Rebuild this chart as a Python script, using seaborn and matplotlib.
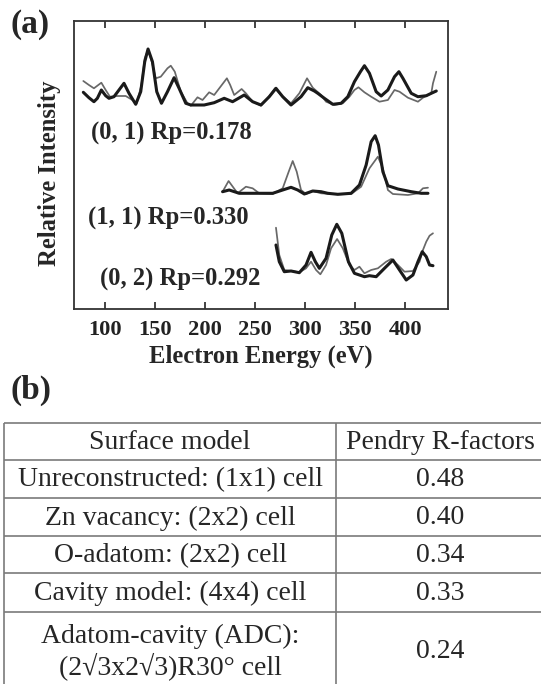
import numpy as np
import pandas as pd
import matplotlib
matplotlib.use("Agg")
import matplotlib.pyplot as plt
import seaborn as sns

# ---------------- data ----------------
# (0,1) beam
e01_exp = [78.6, 84.2, 89.2, 92.6, 96.6, 100.9, 104.2, 109.2, 114.2, 119.2, 124.2, 130.9, 135.9, 139.9,
           143.2, 147.6, 151.9, 156.6, 162.6, 169.2, 174.2, 180.9, 185.9, 199.2, 209.2, 219.2, 227.6,
           239.2, 247.6, 255.9, 264.2, 270.9, 277.6, 285.9, 295.9, 302.6, 309.2, 312.6, 319.2, 327.6,
           335.9, 342.6, 349.2, 355.2, 359.2, 364.2, 370.9, 375.9, 382.6, 389.2, 393.6, 397.6, 405.9,
           412.6, 420.9, 425.9, 430.9]
i01_exp = [225.7, 220.3, 216.3, 219.7, 228.0, 222.3, 219.7, 221.3, 228.0, 234.7, 224.7, 213.7, 226.3, 256.3,
           269.0, 256.3, 226.3, 214.7, 226.3, 240.3, 229.7, 214.7, 213.0, 213.0, 215.3, 219.7, 216.3,
           223.0, 216.3, 213.0, 221.3, 229.7, 221.3, 213.0, 221.3, 230.3, 227.0, 224.7, 219.7, 213.7,
           214.7, 221.3, 236.3, 246.3, 252.3, 244.7, 226.3, 222.0, 228.0, 241.3, 246.3, 239.7, 224.7,
           221.3, 222.3, 224.7, 227.0]
e01_th = [78.6, 84.2, 89.2, 96.6, 100.9, 105.2, 112.6, 120.9, 127.6, 131.9, 136.6, 139.9, 143.2, 146.9,
          150.9, 155.9, 162.6, 165.9, 169.9, 175.9, 182.6, 185.9, 192.6, 197.6, 204.2, 209.2, 221.9,
          225.2, 229.2, 236.6, 240.9, 247.6, 255.9, 262.6, 269.9, 275.9, 285.9, 294.2, 301.9, 307.6,
          315.9, 320.9, 329.2, 337.6, 344.2, 349.2, 353.2, 359.2, 365.9, 374.2, 382.6, 389.2, 394.2,
          402.6, 412.6, 417.6, 425.9, 427.6, 430.9]
i01_th = [237.0, 233.0, 229.7, 235.3, 228.0, 221.3, 222.0, 222.0, 218.0, 214.7, 233.0, 259.7, 268.0, 256.3,
          239.7, 241.3, 249.7, 252.3, 246.3, 226.3, 214.7, 212.3, 220.7, 218.0, 225.7, 223.0, 239.7,
          233.0, 223.0, 229.0, 224.7, 216.3, 212.3, 219.7, 229.7, 223.0, 214.7, 224.7, 239.7, 230.3,
          223.0, 216.3, 213.0, 214.7, 221.3, 228.0, 230.7, 225.7, 221.3, 216.3, 218.0, 228.0, 226.3,
          220.3, 216.3, 220.3, 224.7, 234.7, 246.3]

# (1,1) beam
e11_exp = [217.6, 224.2, 234.2, 250.9, 267.6, 277.6, 285.9, 292.6, 299.2, 307.6, 315.9, 322.6, 332.6,
           345.9, 354.2, 360.9, 365.9, 369.9, 373.2, 377.6, 382.6, 392.6, 405.9, 415.9, 422.6]
i11_exp = [126.3, 128.0, 124.7, 124.7, 124.7, 128.0, 130.7, 128.0, 124.0, 127.0, 126.3, 124.7, 123.7,
           124.7, 133.0, 153.0, 176.3, 182.3, 173.0, 146.3, 132.3, 129.0, 126.3, 124.7, 124.7]
e11_th = [217.6, 223.6, 232.6, 240.9, 247.6, 254.2, 267.6, 277.6, 283.6, 287.6, 291.6, 295.9, 300.9,
          307.6, 315.9, 332.6, 345.9, 355.9, 364.2, 372.6, 377.6, 382.6, 387.6, 402.6, 412.6, 417.6, 422.6]
i11_th = [126.3, 137.0, 124.7, 131.3, 129.7, 124.7, 124.0, 129.7, 146.3, 157.0, 146.3, 128.0, 124.0,
          127.0, 124.7, 123.7, 124.0, 131.3, 149.7, 161.3, 149.7, 128.0, 124.0, 123.0, 124.7, 129.7, 130.3]

# (0,2) beam
e02_exp = [270.9, 274.2, 279.2, 285.9, 294.2, 300.9, 305.9, 310.2, 314.2, 320.9, 326.6, 331.6, 336.6,
           343.2, 349.2, 354.2, 359.2, 364.2, 370.9, 379.2, 387.6, 394.2, 400.9, 407.6, 412.6, 416.9,
           420.9, 424.2, 427.6]
i02_exp = [73.0, 56.3, 46.3, 47.0, 45.3, 53.0, 65.7, 56.3, 49.7, 59.7, 83.0, 93.7, 84.7,
           56.3, 44.7, 43.0, 41.3, 42.3, 41.3, 49.7, 58.0, 48.0, 38.0, 43.0, 56.3, 66.3,
           61.3, 53.0, 52.3]
e02_th = [270.9, 274.2, 279.2, 285.9, 294.2, 300.9, 305.9, 310.9, 315.2, 320.9, 325.9, 331.9, 337.6,
          344.2, 349.2, 354.2, 359.2, 365.9, 372.6, 380.9, 385.9, 392.6, 399.2, 407.6, 414.2, 417.6,
          420.9, 424.2, 427.6]
i02_th = [90.3, 63.0, 48.0, 47.0, 45.7, 49.7, 56.3, 48.0, 43.7, 53.0, 69.7, 79.0, 69.7,
          53.0, 48.0, 51.3, 44.7, 48.0, 49.7, 56.3, 59.0, 53.0, 46.3, 47.0, 56.3, 68.0,
          76.3, 82.3, 84.7]

beam_labels = ["(0, 1) Rp=0.178", "(1, 1) Rp=0.330", "(0, 2) Rp=0.292"]
x_ticks = [100, 150, 200, 250, 300, 350, 400]

models = ["Unreconstructed: (1x1) cell", "Zn vacancy: (2x2) cell", "O-adatom: (2x2) cell",
          "Cavity model: (4x4) cell", "Adatom-cavity (ADC):\n(2\u221a3x2\u221a3)R30\u00b0 cell"]
rfactors = ["0.48", "0.40", "0.34", "0.33", "0.24"]
table_header = ["Surface model", "Pendry R-factors"]

# ---------------- style ----------------
sns.set_theme(style="white")
plt.rcParams["font.family"] = ["Liberation Serif", "DejaVu Serif"]

W, H = 541, 684
fig = plt.figure(figsize=(W / 100, H / 100), dpi=100)
fig.patch.set_facecolor("white")

def fx(px):
    return px / W

def fy(py):
    return 1 - py / H

ax_l, ax_r, ax_t, ax_b = 74, 448, 21, 309
ax = fig.add_axes([fx(ax_l), fy(ax_b), (ax_r - ax_l) / W, (ax_b - ax_t) / H])

thick_c, thin_c = "#1a1a1a", "#686868"
for ex, ix, et, it in [(e01_exp, i01_exp, e01_th, i01_th),
                       (e11_exp, i11_exp, e11_th, i11_th),
                       (e02_exp, i02_exp, e02_th, i02_th)]:
    sns.lineplot(x=et, y=it, ax=ax, color=thin_c, linewidth=1.25, sort=False, estimator=None)
    sns.lineplot(x=ex, y=ix, ax=ax, color=thick_c, linewidth=2.2, sort=False, estimator=None)
for ln in ax.lines:
    ln.set_solid_joinstyle("round")
    ln.set_solid_capstyle("round")

ax.set_xlim(69.3, 442.6)
ax.set_ylim(9, 297)
ax.set_xticks(x_ticks)
ax.set_xticklabels([str(t) for t in x_ticks], fontsize=16.2, fontweight="bold")
ax.set_yticks([])
ax.tick_params(axis="x", direction="in", top=True, bottom=True, length=5, width=1.2,
               colors="#222222", pad=8)
for s in ax.spines.values():
    s.set_color("#333333")
    s.set_linewidth(1.3)
ax.set_xlabel("Electron Energy (eV)", fontsize=17.7, fontweight="bold", labelpad=3)
ax.set_ylabel("Relative Intensity", fontsize=17.7, fontweight="bold")
ax.yaxis.set_label_coords(-0.035, 0.47)

# beam labels
label_pos = [(91, 133), (88, 218), (100, 279)]
for txt, (px, py) in zip(beam_labels, label_pos):
    fig.text(fx(px), fy(py), txt, fontsize=17.7, fontweight="bold", ha="left", va="center")

fig.text(fx(10), fy(25), "(a)", fontsize=24, fontweight="bold", ha="left", va="center")
fig.text(fx(10), fy(390), "(b)", fontsize=24, fontweight="bold", ha="left", va="center")

# ---------------- table ----------------
tab = fig.add_axes([0, 0, 1, 1])
tab.set_xlim(0, W)
tab.set_ylim(H, 0)
tab.axis("off")
row_y = [423, 460, 498, 536, 573, 612, 692]
x_left, x_div, x_right = 4, 336, 545
line_c = "#7a7a7a"
for y in row_y:
    tab.plot([x_left, x_right], [y, y], color=line_c, linewidth=1.2, solid_capstyle="butt")
for x in [x_left, x_div, x_right]:
    tab.plot([x, x], [row_y[0], row_y[-1]], color=line_c, linewidth=1.2, solid_capstyle="butt")

c1 = (x_left + x_div) / 2
c2 = (x_div + x_right) / 2
fs_t = 20
tab.text(c1, (row_y[0] + row_y[1]) / 2 + 1, table_header[0], fontsize=fs_t, ha="center", va="center")
tab.text(c2, (row_y[0] + row_y[1]) / 2 + 1, table_header[1], fontsize=fs_t, ha="center", va="center")
for k, (m, r) in enumerate(zip(models, rfactors)):
    y0, y1 = row_y[k + 1], row_y[k + 2]
    yc = (y0 + y1) / 2 + 1
    if k == len(models) - 1:
        yc = 652
    tab.text(c1, yc, m, fontsize=fs_t, ha="center", va="center", linespacing=1.15)
    tab.text(c2, yc, r, fontsize=fs_t, ha="center", va="center")

fig.savefig("out.png", dpi=100, facecolor="white")
